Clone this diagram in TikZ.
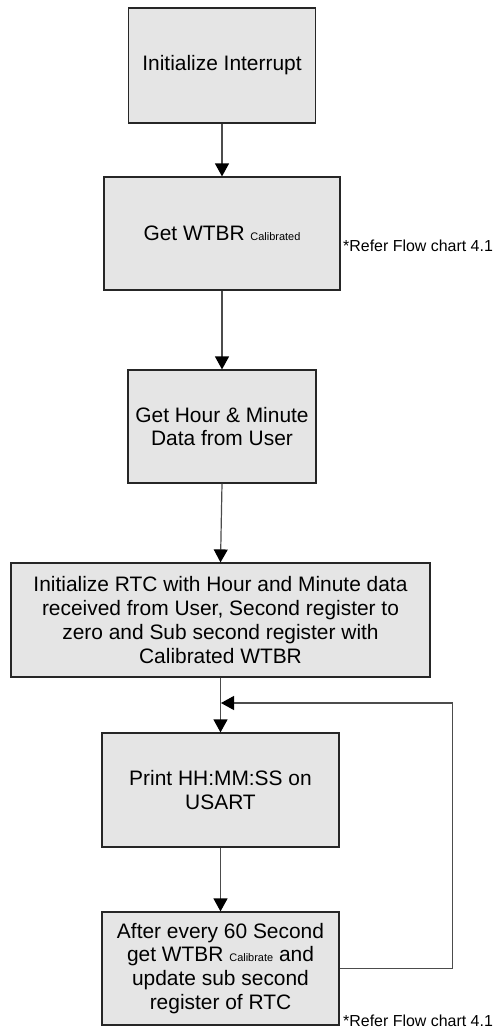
\documentclass[tikz,border=0pt]{standalone}
\usepackage{fontspec}
\setmainfont{Liberation Sans}
\usepackage{tikz}
\usetikzlibrary{arrows.meta,positioning}
\definecolor{boxfill}{gray}{0.9}
\newcommand{\tsub}[1]{{\fontsize{11}{11}\selectfont #1}}

\begin{document}
\begin{tikzpicture}[>={Triangle[length=13bp,width=14bp,color=black]}]
      \tikzstyle{every node}=[font=\fontsize{21}{24}\selectfont]
      \tikzstyle{stepbox}=[draw=black!85,line width=1.2bp,fill=boxfill,align=center,inner sep=0pt]
      \tikzstyle{flow}=[draw=black!70,line width=1.2bp]
      \useasboundingbox (0bp,0bp) rectangle (496bp,-1030bp);

%%
\node (fc_1) at (222bp,-65.5bp) [stepbox,minimum width=187bp,minimum height=115bp] {Initialize Interrupt};
  \node (fc_2) at (222bp,-233.5bp) [stepbox,minimum width=236bp,minimum height=113bp] {Get WTBR \tsub{Calibrated}};
  \node (fc_3) at (222bp,-426.5bp) [stepbox,minimum width=188bp,minimum height=113bp] {Get Hour \& Minute\\Data from User};
  \node (fc_4) at (220.5bp,-620bp) [stepbox,minimum width=419bp,minimum height=114bp] {Initialize RTC with Hour and Minute data\\received from User, Second register to\\zero and Sub second register with\\Calibrated WTBR};
  \node (fc_5) at (220.5bp,-790bp) [stepbox,minimum width=237bp,minimum height=114bp] {Print HH:MM:SS on\\USART};
  \node (fc_6) at (220.5bp,-968.5bp) [stepbox,minimum width=237bp,minimum height=113bp] {After every 60 Second\\get WTBR \tsub{Calibrate} and\\update sub second\\register of RTC};
  \node (ref_2) at (343bp,-251bp) [anchor=base west,inner sep=0pt,font=\fontsize{16}{18}\selectfont] {*Refer Flow chart 4.1};
  \node (ref_6) at (343bp,-1026bp) [anchor=base west,inner sep=0pt,font=\fontsize{16}{18}\selectfont] {*Refer Flow chart 4.1};
  \coordinate (back) at (221bp,-703bp);
%
  \draw [->,flow] (fc_1) -- (fc_2);
  \draw [->,flow] (fc_2) -- (fc_3);
  \draw [->,flow] (fc_3.south) -- (fc_4.north);
  \draw [->,flow] (fc_4) -- (fc_5);
  \draw [->,flow] (fc_5) -- (fc_6);
  \draw [->,flow] (fc_6.east) -- ++(113bp,0bp) |- (back);
%

    \end{tikzpicture}
\end{document}
